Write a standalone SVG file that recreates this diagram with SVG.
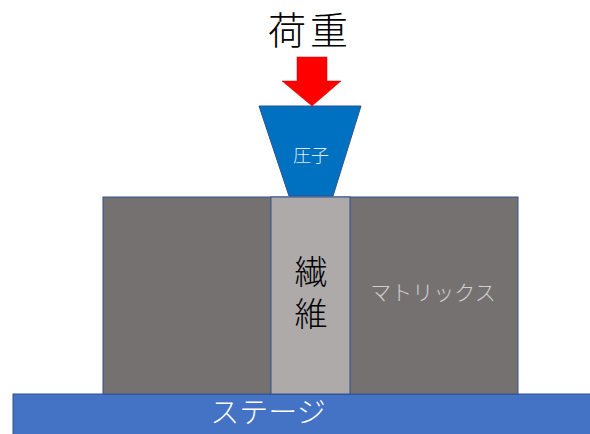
<svg xmlns="http://www.w3.org/2000/svg" width="590" height="434" viewBox="0 0 590 434">
<style>
.jp{font-family:"Noto Sans CJK JP","Noto Sans",sans-serif;font-weight:300;}
.edge{stroke:#2F528F;stroke-width:1}
</style>
<rect width="590" height="434" fill="#fff"/>
<g id="stage">
<rect x="13" y="394" width="590" height="42" fill="#4472C4" class="edge"/>
<text x="268" y="423" font-size="29" fill="#fff" text-anchor="middle" class="jp">ステージ</text>
</g>
<g id="matrix">
<rect x="103" y="197" width="415" height="197" fill="#767171" class="edge"/>
<text x="433" y="300" font-size="21" fill="#D0CECE" text-anchor="middle" class="jp">マトリックス</text>
</g>
<g id="fiber">
<rect x="271" y="197" width="79" height="197" fill="#AEAAAA" class="edge"/>
<text x="311" y="255" font-size="33" fill="#000" writing-mode="vertical-rl" letter-spacing="9" class="jp">繊維</text>
</g>
<g id="indenter">
<polygon points="259,106 361,106 333,196 289,196" fill="#0070C0" class="edge"/>
<text x="311" y="162" font-size="18" fill="#DEEBF7" text-anchor="middle" class="jp">圧子</text>
</g>
<g id="load">
<text x="310" y="44" font-size="38" fill="#000" text-anchor="middle" letter-spacing="4" class="jp">荷重</text>
<polygon points="297,57 327,57 327,81 341,81 312,106 282,81 297,81" fill="#FF0000" stroke="#C00000" stroke-width="0.5"/>
</g>
</svg>
